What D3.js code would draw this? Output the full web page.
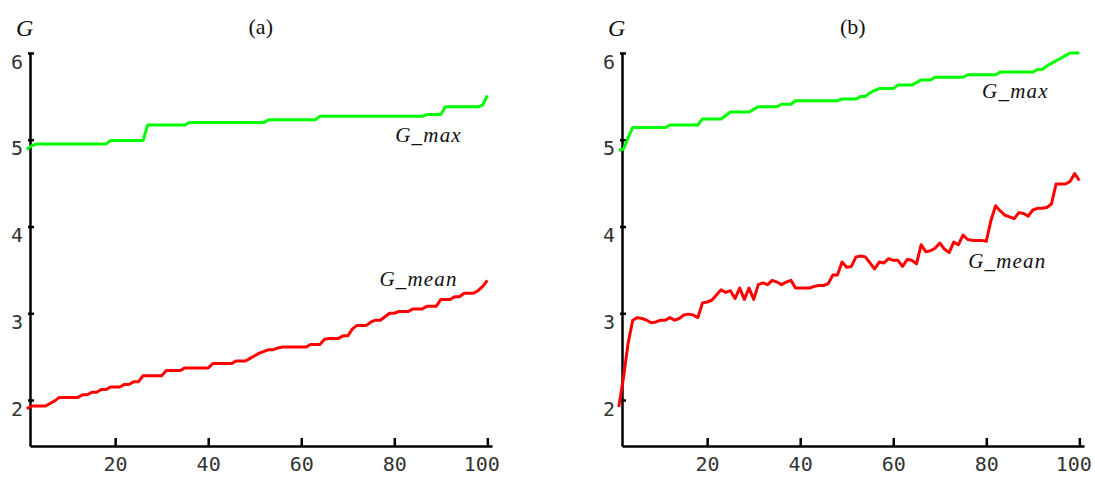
<!DOCTYPE html>
<html>
<head>
<meta charset="utf-8">
<script src="https://cdn.jsdelivr.net/npm/d3@7"></script>
<style>
  body { margin: 0; background: #fff; }
  svg { display: block; }
  .axis path, .axis line { stroke: #000; stroke-width: 2.5px; }
  .axis text { font-family: "DejaVu Sans Mono", monospace; font-size: 20px; fill: #333; }
  .lbl { font-family: "Liberation Serif", "Times New Roman", serif; font-size: 21px; fill: #111; }
</style>
</head>
<body>
<div id="chart"></div>
<script>
// generations 1..100
const generations = d3.range(1, 101);
const xTicks = [20, 40, 60, 80, 100];
const yTicks = [2, 3, 4, 5, 6];

// panel (a)
const gMaxA = [
  4.89, 4.93, 4.95, 4.95, 4.95, 4.95, 4.95, 4.95, 4.95, 4.95,
  4.95, 4.95, 4.95, 4.95, 4.95, 4.95, 4.95, 4.95, 4.99, 4.99,
  4.99, 4.99, 4.99, 4.99, 4.99, 4.99, 5.17, 5.17, 5.17, 5.17,
  5.17, 5.17, 5.17, 5.17, 5.17, 5.20, 5.20, 5.20, 5.20, 5.20,
  5.20, 5.20, 5.20, 5.20, 5.20, 5.20, 5.20, 5.20, 5.20, 5.20,
  5.20, 5.20, 5.23, 5.23, 5.23, 5.23, 5.23, 5.23, 5.23, 5.23,
  5.23, 5.23, 5.23, 5.27, 5.27, 5.27, 5.27, 5.27, 5.27, 5.27,
  5.27, 5.27, 5.27, 5.27, 5.27, 5.27, 5.27, 5.27, 5.27, 5.27,
  5.27, 5.27, 5.27, 5.27, 5.27, 5.27, 5.29, 5.29, 5.29, 5.29,
  5.38, 5.38, 5.38, 5.38, 5.38, 5.38, 5.38, 5.38, 5.40, 5.51
];
const gMeanA = [
  1.90, 1.93, 1.93, 1.93, 1.93, 1.96, 1.99, 2.03, 2.03, 2.03,
  2.03, 2.03, 2.06, 2.06, 2.09, 2.09, 2.12, 2.12, 2.15, 2.15,
  2.15, 2.18, 2.18, 2.21, 2.21, 2.28, 2.28, 2.28, 2.28, 2.28,
  2.34, 2.34, 2.34, 2.34, 2.37, 2.37, 2.37, 2.37, 2.37, 2.37,
  2.42, 2.42, 2.42, 2.42, 2.42, 2.45, 2.45, 2.45, 2.48, 2.51,
  2.54, 2.56, 2.58, 2.58, 2.60, 2.61, 2.61, 2.61, 2.61, 2.61,
  2.61, 2.64, 2.64, 2.64, 2.70, 2.71, 2.71, 2.71, 2.74, 2.74,
  2.82, 2.86, 2.86, 2.86, 2.90, 2.92, 2.92, 2.96, 3.00, 3.00,
  3.02, 3.02, 3.02, 3.05, 3.05, 3.05, 3.08, 3.08, 3.08, 3.16,
  3.16, 3.16, 3.19, 3.19, 3.23, 3.23, 3.23, 3.26, 3.31, 3.38
];

// panel (b)
const gMaxB = [
  4.88, 4.89, 5.02, 5.14, 5.14, 5.14, 5.14, 5.14, 5.14, 5.14,
  5.14, 5.17, 5.17, 5.17, 5.17, 5.17, 5.17, 5.17, 5.24, 5.24,
  5.24, 5.24, 5.24, 5.28, 5.32, 5.32, 5.32, 5.32, 5.32, 5.35,
  5.38, 5.38, 5.38, 5.38, 5.38, 5.41, 5.41, 5.41, 5.45, 5.45,
  5.45, 5.45, 5.45, 5.45, 5.45, 5.45, 5.45, 5.45, 5.47, 5.47,
  5.47, 5.47, 5.50, 5.50, 5.54, 5.57, 5.59, 5.59, 5.59, 5.59,
  5.63, 5.63, 5.63, 5.63, 5.66, 5.69, 5.69, 5.69, 5.72, 5.72,
  5.72, 5.72, 5.72, 5.72, 5.72, 5.75, 5.75, 5.75, 5.75, 5.75,
  5.75, 5.75, 5.78, 5.78, 5.78, 5.78, 5.78, 5.78, 5.78, 5.78,
  5.81, 5.81, 5.85, 5.88, 5.91, 5.94, 5.97, 6.00, 6.00, 6.00
];
const gMeanB = [
  1.92, 2.25, 2.65, 2.92, 2.95, 2.94, 2.92, 2.89, 2.90, 2.92,
  2.92, 2.95, 2.92, 2.94, 2.98, 2.99, 2.98, 2.95, 3.12, 3.13,
  3.15, 3.21, 3.27, 3.24, 3.26, 3.17, 3.29, 3.16, 3.29, 3.16,
  3.33, 3.35, 3.33, 3.38, 3.36, 3.33, 3.36, 3.38, 3.29, 3.29,
  3.29, 3.29, 3.31, 3.32, 3.32, 3.34, 3.44, 3.44, 3.59, 3.53,
  3.54, 3.65, 3.66, 3.65, 3.58, 3.51, 3.59, 3.58, 3.63, 3.61,
  3.61, 3.54, 3.62, 3.61, 3.57, 3.79, 3.71, 3.72, 3.75, 3.81,
  3.74, 3.70, 3.82, 3.79, 3.90, 3.85, 3.84, 3.84, 3.84, 3.83,
  4.07, 4.24, 4.18, 4.13, 4.11, 4.09, 4.16, 4.15, 4.12, 4.19,
  4.21, 4.21, 4.22, 4.26, 4.49, 4.49, 4.49, 4.52, 4.61, 4.53
];

const width = 1095, height = 478;
const svg = d3.select("#chart").append("svg")
    .attr("width", width)
    .attr("height", height);

const x = d3.scaleLinear().domain([1.7, 101]).range([30, 492]);
const y = d3.scaleLinear().domain([1.47, 6]).range([446, 53]);

const line = d3.line()
    .x((d, i) => x(generations[i]))
    .y(d => y(d));

function drawPanel(offset, maxData, meanData, title, maxLbl, meanLbl) {
    const g = svg.append("g").attr("transform", `translate(${offset},0)`);

    // x axis
    const xa = g.append("g")
        .attr("class", "axis")
        .attr("transform", `translate(0,${y.range()[0]})`)
        .call(d3.axisBottom(x).tickValues(xTicks).tickFormat(d3.format("d"))
            .tickSizeInner(-8).tickSizeOuter(0).tickPadding(11));
    xa.selectAll(".tick text")
        .attr("dy", "0.71em")
        .attr("text-anchor", "end")
        .attr("x", 12);

    // y axis
    const ya = g.append("g")
        .attr("class", "axis")
        .attr("transform", `translate(${x.range()[0]},0)`)
        .call(d3.axisLeft(y).tickValues(yTicks).tickFormat(d3.format("d"))
            .tickSizeOuter(0).tickSizeInner(2).tickPadding(5));
    ya.selectAll(".tick line").attr("x1", 4).attr("x2", -2);
    ya.selectAll(".tick text").attr("dy", "15px").attr("text-anchor", "end");

    g.append("path")
        .datum(maxData)
        .attr("fill", "none")
        .attr("stroke", "#00ff00")
        .attr("stroke-width", 3)
        .attr("stroke-linejoin", "round")
        .attr("d", line);

    g.append("path")
        .datum(meanData)
        .attr("fill", "none")
        .attr("stroke", "#ff0000")
        .attr("stroke-width", 3)
        .attr("stroke-linejoin", "round")
        .attr("d", line);

    // labels
    g.append("text").attr("class", "lbl")
        .attr("x", x.range()[0] - 14).attr("y", 36)
        .style("font-style", "italic")
        .style("font-size", "24px")
        .text("G");
    g.append("text").attr("class", "lbl")
        .attr("x", x(51.3)).attr("y", 34)
        .attr("text-anchor", "middle")
        .style("font-size", "22px")
        .text(title);
    g.append("text").attr("class", "lbl")
        .attr("x", x(maxLbl[0])).attr("y", y(maxLbl[1]))
        .style("font-style", "italic")
        .style("letter-spacing", "1.2px")
        .text("G_max");
    g.append("text").attr("class", "lbl")
        .attr("x", x(meanLbl[0])).attr("y", y(meanLbl[1]))
        .style("font-style", "italic")
        .style("letter-spacing", "1.2px")
        .text("G_mean");
}

drawPanel(0, gMaxA, gMeanA, "(a)", [80.2, 4.97], [76.8, 3.31]);
drawPanel(592, gMaxB, gMeanB, "(b)", [79.1, 5.48], [76.1, 3.52]);
</script>
</body>
</html>
